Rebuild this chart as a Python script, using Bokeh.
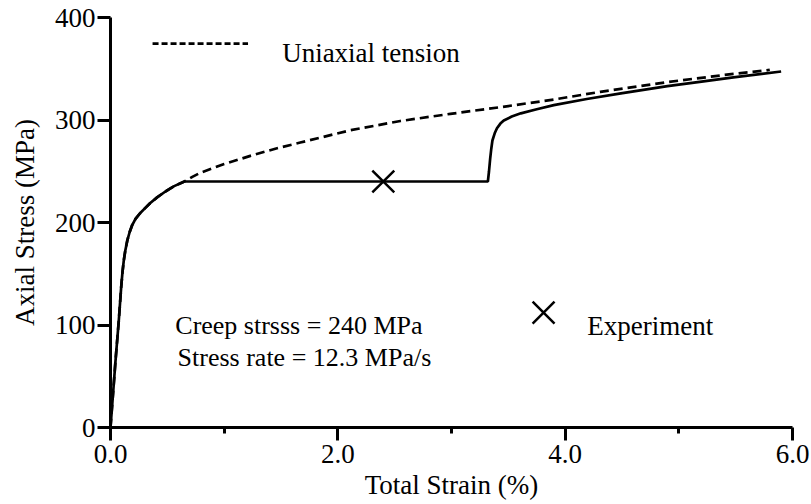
from bokeh.plotting import figure
from bokeh.models import Range1d, FixedTicker, Label
from bokeh.embed import file_html
from bokeh.resources import INLINE

# ---- data ----
knee_strain = [0.0, 0.044, 0.073, 0.094, 0.105, 0.117, 0.13, 0.147, 0.168, 0.191, 0.22, 0.26, 0.30,
               0.35, 0.41, 0.48, 0.56, 0.65]
knee_stress = [0, 65, 104.4, 136.9, 151, 163, 172.5, 182, 190.5, 197.5, 203.5, 209, 213.5,
               219, 224.5, 230, 235.5, 240]

tension_strain = knee_strain + [0.72, 0.79, 0.9, 1.0, 1.23, 1.45, 1.67, 2.11, 2.55, 2.99, 3.43,
                                3.9, 4.31, 4.9, 5.48, 5.76, 5.8]
tension_stress = knee_stress + [244.5, 248.5, 253, 257, 265, 272, 278, 290, 299, 306, 312.5,
                                320, 327.5, 337, 345, 348.3, 349]

creep_strain = knee_strain + [3.32, 3.33, 3.34, 3.35, 3.36, 3.38, 3.40, 3.43, 3.46, 3.53, 3.61,
                              3.75, 3.9, 4.19, 4.49, 4.9, 5.2, 5.48, 5.9]
creep_stress = knee_stress + [240, 250, 262, 272, 280, 287, 292, 296.5, 299.5, 303.4, 306.5,
                              310.5, 314.5, 320.5, 326, 333, 337.5, 341.5, 347.3]

exp_strain = [2.4]
exp_stress = [240]

x_ticks = [0, 2, 4, 6]
x_minor_ticks = [1, 3, 5]
x_tick_labels = ["0.0", "2.0", "4.0", "6.0"]
y_ticks = [0, 100, 200, 300, 400]

FONT = "Liberation Serif"
FS = "27px"

p = figure(width=811, height=504, output_backend="svg", toolbar_location=None,
           x_range=Range1d(0, 6), y_range=Range1d(0, 400),
           min_border_left=110, min_border_right=19, min_border_top=17, min_border_bottom=77)
p.xgrid.visible = False
p.ygrid.visible = False
p.outline_line_color = None
p.background_fill_color = "white"
p.border_fill_color = "white"

for ax in (p.xaxis[0], p.yaxis[0]):
    ax.axis_line_width = 3
    ax.axis_line_color = "black"
    ax.major_tick_line_width = 3
    ax.major_tick_line_color = "black"
    ax.minor_tick_line_width = 3
    ax.minor_tick_line_color = "black"
    ax.major_tick_in = 0
    ax.minor_tick_in = 0
    ax.major_tick_out = 13
    ax.major_label_text_font = FONT
    ax.major_label_text_font_size = FS
    ax.major_label_text_color = "black"
    ax.axis_label_text_font = FONT
    ax.axis_label_text_font_size = FS
    ax.axis_label_text_font_style = "normal"
    ax.axis_label_text_color = "black"

p.xaxis.ticker = FixedTicker(ticks=x_ticks, minor_ticks=x_minor_ticks)
p.xaxis.major_label_overrides = dict(zip(x_ticks, x_tick_labels))
p.xaxis.minor_tick_out = 6
p.xaxis.major_label_standoff = 4
p.xaxis.axis_label = "Total Strain (%)"
p.xaxis.axis_label_standoff = 4

p.yaxis.ticker = FixedTicker(ticks=y_ticks, minor_ticks=[])
p.yaxis.minor_tick_out = 0
p.yaxis.major_label_standoff = 2
p.yaxis.axis_label = "Axial Stress (MPa)"
p.yaxis.axis_label_standoff = 12

# curves
p.line(tension_strain, tension_stress, line_color="black", line_width=2.7, line_dash="9 5")
p.line(creep_strain, creep_stress, line_color="black", line_width=2.7)
p.scatter(exp_strain, exp_stress, marker="x", size=31, line_color="black", line_width=2.5)

# legend-like annotations
p.line([0.37, 1.21], [374.6, 374.6], line_color="black", line_width=2.7, line_dash="6 3")
p.add_layout(Label(x=1.51, y=365, text="Uniaxial tension", text_font=FONT,
                   text_font_size=FS, text_baseline="alphabetic", text_color="black"))
p.scatter([3.81], [112], marker="x", size=31, line_color="black", line_width=2.5)
p.add_layout(Label(x=4.195, y=99.5, text="Experiment", text_font=FONT,
                   text_font_size=FS, text_baseline="alphabetic", text_color="black"))
p.add_layout(Label(x=0.57, y=99.5, text="Creep strsss = 240 MPa", text_font=FONT,
                   text_font_size="26px", text_baseline="alphabetic", text_color="black"))
p.add_layout(Label(x=0.59, y=68.3, text="Stress rate = 12.3 MPa/s", text_font=FONT,
                   text_font_size="26px", text_baseline="alphabetic", text_color="black"))

open("out.html", "w").write(file_html(p, INLINE))
